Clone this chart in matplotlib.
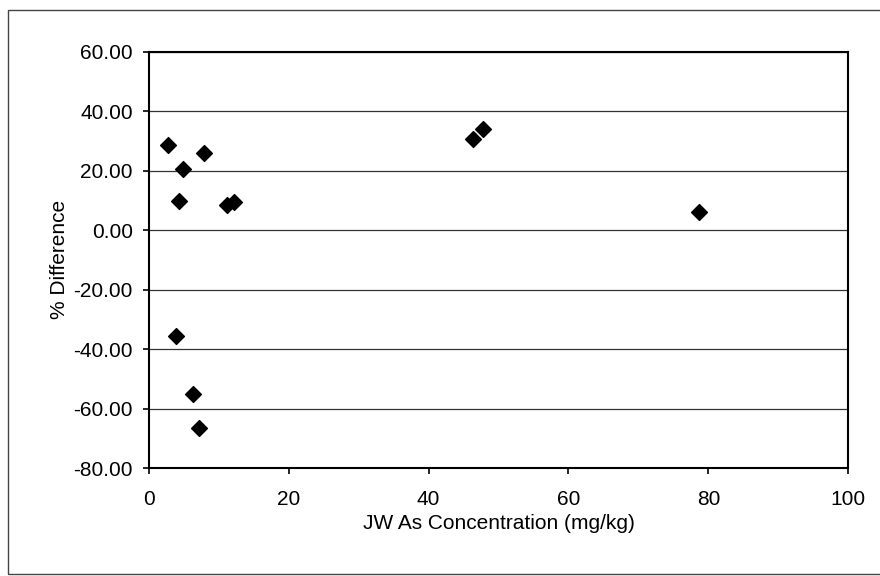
import matplotlib.pyplot as plt
from matplotlib.patches import Rectangle

# Datos
jw_conc = [2.7, 4.9, 7.9, 4.3, 11.2, 12.2, 3.9, 6.4, 7.2, 46.4, 47.8, 78.7]
pct_diff = [28.5, 20.6, 26.0, 9.8, 8.5, 9.5, -35.6, -55.0, -66.6, 30.7, 34.0, 6.0]

y_ticks = [-80, -60, -40, -20, 0, 20, 40, 60]
x_ticks = [0, 20, 40, 60, 80, 100]

plt.rcParams['font.family'] = ['Liberation Sans', 'DejaVu Sans']

fig = plt.figure(figsize=(8.8, 5.76), dpi=100)
ax = fig.add_axes([0.169, 0.1875, 0.795, 0.7225])

# Marco exterior del grafico (recortado a la derecha como en el escaneo)
fig.patches.append(Rectangle((0.009, 0.004), 1.1, 0.978, transform=fig.transFigure,
                             fill=False, edgecolor='#444444', linewidth=1.0))

ax.scatter(jw_conc, pct_diff, marker='D', s=65, color='black', zorder=3)

ax.set_xlim(0, 100)
ax.set_ylim(-80, 60)
ax.set_xticks(x_ticks)
ax.set_yticks(y_ticks)
ax.set_yticklabels([f"{v:.2f}" for v in y_ticks])
ax.yaxis.grid(True, color='#333333', linewidth=0.9)
ax.set_axisbelow(True)

for s in ax.spines.values():
    s.set_linewidth(1.5)
    s.set_color('black')

ax.tick_params(axis='both', direction='out', length=4.5, width=1.2, labelsize=15)
ax.tick_params(axis='x', pad=11)
ax.tick_params(axis='y', pad=7)

ax.set_xlabel('JW As Concentration (mg/kg)', fontsize=15, labelpad=4)
ax.set_ylabel('% Difference', fontsize=15, labelpad=3)

fig.savefig('out.png', dpi=100)
